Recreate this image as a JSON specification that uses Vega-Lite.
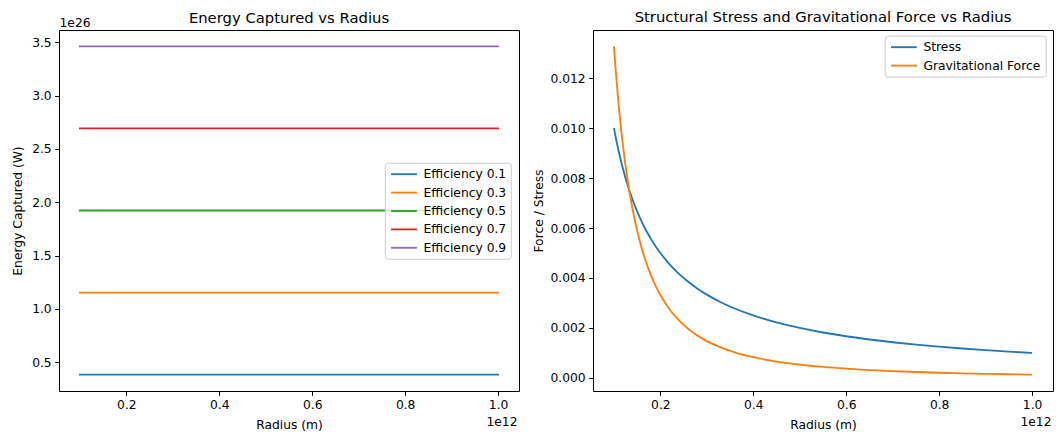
{
  "$schema": "https://vega.github.io/schema/vega-lite/v6.json",
  "autosize": {"type": "none"},
  "padding": {"left": 59, "top": 30, "right": 1000, "bottom": 405},
  "config": {
    "font": "DejaVu Sans",
    "view": {"stroke": "#000", "strokeWidth": 1},
    "axis": {
      "domain": false,
      "grid": false,
      "tickColor": "#000",
      "tickWidth": 1,
      "tickSize": 4.3,
      "labelFontSize": 12.3,
      "labelColor": "#000",
      "labelPadding": 3.5,
      "titleFontSize": 12.3,
      "titleFontWeight": "normal",
      "titleColor": "#000"
    },
    "legend": {
      "orient": "none",
      "symbolType": "M-2.15,0H2.15",
      "symbolStrokeWidth": 1.84,
      "symbolSize": 144,
      "symbolOffset": 7.7,
      "labelFontSize": 12.3,
      "labelColor": "#000",
      "padding": 4.5,
      "rowPadding": 4.4,
      "labelOffset": 12.5,
      "fillColor": "rgba(255,255,255,0.8)",
      "strokeColor": "#cccccc",
      "strokeWidth": 1,
      "cornerRadius": 3
    },
    "title": {
      "fontSize": 14.8,
      "fontWeight": "normal",
      "color": "#000",
      "frame": "group",
      "anchor": "middle",
      "baseline": "alphabetic"
    }
  },
  "bounds": "flush",
  "spacing": 74,
  "resolve": {"scale": {"color": "independent"}, "legend": {"color": "independent"}},
  "datasets": {
    "energy": [
      {"radius": 1e11, "energy": 3.846e25, "series": "Efficiency 0.1"},
      {"radius": 1e12, "energy": 3.846e25, "series": "Efficiency 0.1"},
      {"radius": 1e11, "energy": 1.1538e26, "series": "Efficiency 0.3"},
      {"radius": 1e12, "energy": 1.1538e26, "series": "Efficiency 0.3"},
      {"radius": 1e11, "energy": 1.923e26, "series": "Efficiency 0.5"},
      {"radius": 1e12, "energy": 1.923e26, "series": "Efficiency 0.5"},
      {"radius": 1e11, "energy": 2.6922e26, "series": "Efficiency 0.7"},
      {"radius": 1e12, "energy": 2.6922e26, "series": "Efficiency 0.7"},
      {"radius": 1e11, "energy": 3.4614e26, "series": "Efficiency 0.9"},
      {"radius": 1e12, "energy": 3.4614e26, "series": "Efficiency 0.9"}
    ],
    "forces": [
      {"radius": 1.0e11, "Stress": 0.01, "Gravitational Force": 0.01327},
      {"radius": 1.1e11, "Stress": 0.0090909, "Gravitational Force": 0.010967},
      {"radius": 1.2e11, "Stress": 0.0083333, "Gravitational Force": 0.0092153},
      {"radius": 1.3e11, "Stress": 0.0076923, "Gravitational Force": 0.0078521},
      {"radius": 1.4e11, "Stress": 0.0071429, "Gravitational Force": 0.0067704},
      {"radius": 1.5e11, "Stress": 0.0066667, "Gravitational Force": 0.0058978},
      {"radius": 1.6e11, "Stress": 0.00625, "Gravitational Force": 0.0051836},
      {"radius": 1.7e11, "Stress": 0.0058824, "Gravitational Force": 0.0045917},
      {"radius": 1.8e11, "Stress": 0.0055556, "Gravitational Force": 0.0040957},
      {"radius": 1.9e11, "Stress": 0.0052632, "Gravitational Force": 0.0036759},
      {"radius": 2.0e11, "Stress": 0.005, "Gravitational Force": 0.0033175},
      {"radius": 2.2e11, "Stress": 0.0045455, "Gravitational Force": 0.0027417},
      {"radius": 2.4e11, "Stress": 0.0041667, "Gravitational Force": 0.0023038},
      {"radius": 2.6e11, "Stress": 0.0038462, "Gravitational Force": 0.001963},
      {"radius": 2.8e11, "Stress": 0.0035714, "Gravitational Force": 0.0016926},
      {"radius": 3.0e11, "Stress": 0.0033333, "Gravitational Force": 0.0014744},
      {"radius": 3.3e11, "Stress": 0.0030303, "Gravitational Force": 0.0012185},
      {"radius": 3.6e11, "Stress": 0.0027778, "Gravitational Force": 0.0010239},
      {"radius": 4.0e11, "Stress": 0.0025, "Gravitational Force": 0.00082938},
      {"radius": 4.5e11, "Stress": 0.0022222, "Gravitational Force": 0.00065531},
      {"radius": 5.0e11, "Stress": 0.002, "Gravitational Force": 0.0005308},
      {"radius": 5.5e11, "Stress": 0.0018182, "Gravitational Force": 0.00043868},
      {"radius": 6.0e11, "Stress": 0.0016667, "Gravitational Force": 0.00036861},
      {"radius": 6.5e11, "Stress": 0.0015385, "Gravitational Force": 0.00031408},
      {"radius": 7.0e11, "Stress": 0.0014286, "Gravitational Force": 0.00027082},
      {"radius": 7.5e11, "Stress": 0.0013333, "Gravitational Force": 0.00023591},
      {"radius": 8.0e11, "Stress": 0.00125, "Gravitational Force": 0.00020734},
      {"radius": 8.5e11, "Stress": 0.0011765, "Gravitational Force": 0.00018367},
      {"radius": 9.0e11, "Stress": 0.0011111, "Gravitational Force": 0.00016383},
      {"radius": 9.5e11, "Stress": 0.0010526, "Gravitational Force": 0.00014704},
      {"radius": 1.0e12, "Stress": 0.001, "Gravitational Force": 0.0001327}
    ]
  },
  "hconcat": [
    {
      "title": {"text": "Energy Captured vs Radius", "offset": -9.4},
      "width": 460,
      "height": 361,
      "data": {"name": "energy"},
      "layer": [
        {
          "mark": {"type": "line", "strokeWidth": 1.84, "strokeCap": "square"},
          "encoding": {
            "x": {
              "field": "radius",
              "type": "quantitative",
              "scale": {"domain": [5.5e10, 1.045e12], "nice": false, "zero": false},
              "axis": {
                "orient": "bottom",
                "values": [2e11, 4e11, 6e11, 8e11, 1e12],
                "labelExpr": "format(datum.value / 1e12, '.1f')",
                "title": "Radius (m)",
                "titleX": 230,
                "titleY": 37.4,
                "titleBaseline": "alphabetic"
              }
            },
            "y": {
              "field": "energy",
              "type": "quantitative",
              "scale": {"domain": [2.308e25, 3.6152e26], "nice": false, "zero": false},
              "axis": {
                "orient": "left",
                "values": [5e25, 1e26, 1.5e26, 2e26, 2.5e26, 3e26, 3.5e26],
                "labelExpr": "format(datum.value / 1e26, '.1f')",
                "title": "Energy Captured (W)",
                "titleAngle": 270,
                "titleX": -42,
                "titleY": 180.5,
                "titleBaseline": "middle",
                "titleAlign": "center"
              }
            },
            "color": {
              "field": "series",
              "type": "nominal",
              "scale": {
                "domain": ["Efficiency 0.1", "Efficiency 0.3", "Efficiency 0.5", "Efficiency 0.7", "Efficiency 0.9"],
                "range": ["#1f77b4", "#ff7f0e", "#2ca02c", "#d62728", "#9467bd"]
              },
              "legend": {"title": null, "legendX": 325.8, "legendY": 132.7}
            }
          }
        },
        {
          "mark": {"type": "point", "opacity": 0},
          "encoding": {
            "x": {
              "field": "radius",
              "type": "quantitative",
              "axis": {
                "orient": "bottom",
                "labels": false,
                "ticks": false,
                "title": "1e12",
                "titleX": 458,
                "titleY": 34.5,
                "titleAlign": "right",
                "titleBaseline": "alphabetic"
              }
            },
            "y": {
              "field": "energy",
              "type": "quantitative",
              "axis": {
                "orient": "left",
                "labels": false,
                "ticks": false,
                "title": "1e26",
                "titleAngle": 0,
                "titleX": 0,
                "titleY": -4,
                "titleAlign": "left",
                "titleBaseline": "alphabetic"
              }
            }
          }
        }
      ],
      "resolve": {"axis": {"x": "independent", "y": "independent"}}
    },
    {
      "title": {"text": "Structural Stress and Gravitational Force vs Radius", "offset": 5.6},
      "width": 460,
      "height": 361,
      "data": {"name": "forces"},
      "transform": [{"fold": ["Stress", "Gravitational Force"], "as": ["series", "value"]}],
      "layer": [
        {
          "mark": {"type": "line", "strokeWidth": 1.84, "interpolate": "monotone"},
          "encoding": {
            "x": {
              "field": "radius",
              "type": "quantitative",
              "scale": {"domain": [5.5e10, 1.045e12], "nice": false, "zero": false},
              "axis": {
                "orient": "bottom",
                "values": [2e11, 4e11, 6e11, 8e11, 1e12],
                "labelExpr": "format(datum.value / 1e12, '.1f')",
                "title": "Radius (m)",
                "titleX": 230,
                "titleY": 37.4,
                "titleBaseline": "alphabetic"
              }
            },
            "y": {
              "field": "value",
              "type": "quantitative",
              "scale": {"domain": [-0.000524, 0.013927], "nice": false, "zero": false},
              "axis": {
                "orient": "left",
                "values": [0, 0.002, 0.004, 0.006, 0.008, 0.01, 0.012],
                "format": ".3f",
                "title": "Force / Stress",
                "titleAngle": 270,
                "titleX": -55,
                "titleY": 180.5,
                "titleBaseline": "middle",
                "titleAlign": "center"
              }
            },
            "color": {
              "field": "series",
              "type": "nominal",
              "scale": {
                "domain": ["Stress", "Gravitational Force"],
                "range": ["#1f77b4", "#ff7f0e"]
              },
              "legend": {"title": null, "legendX": 291.7, "legendY": 5.7}
            }
          }
        },
        {
          "mark": {"type": "point", "opacity": 0},
          "encoding": {
            "x": {
              "field": "radius",
              "type": "quantitative",
              "axis": {
                "orient": "bottom",
                "labels": false,
                "ticks": false,
                "title": "1e12",
                "titleX": 458,
                "titleY": 34.5,
                "titleAlign": "right",
                "titleBaseline": "alphabetic"
              }
            }
          }
        }
      ],
      "resolve": {"axis": {"x": "independent"}}
    }
  ]
}
